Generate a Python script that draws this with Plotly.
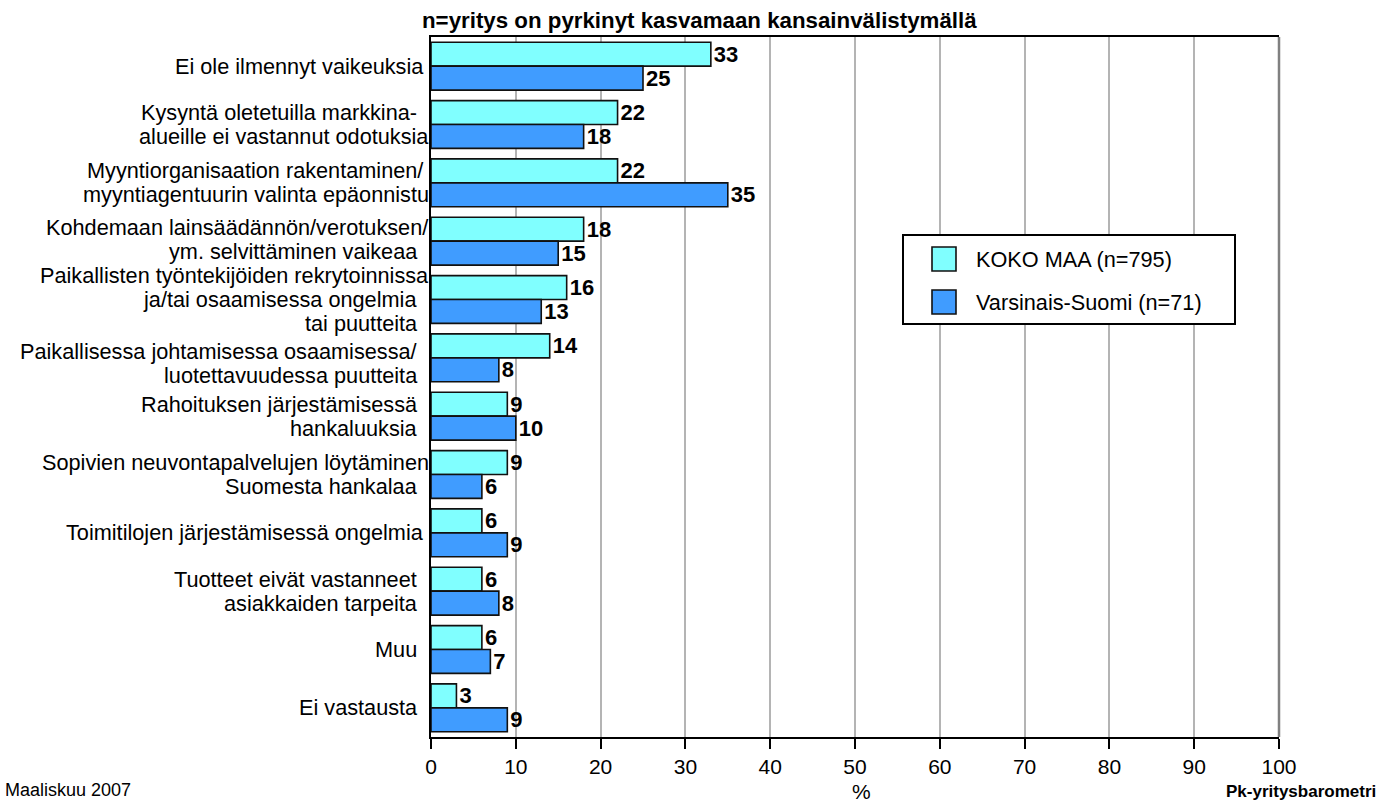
import plotly.graph_objects as go

NB = "\u00a0"

# ---- data ----
categories = [
    "Ei ole ilmennyt vaikeuksia" + NB,
    "Kysyntä oletetuilla markkina-" + NB * 2 + "<br>alueille ei vastannut odotuksia",
    "Myyntiorganisaation rakentaminen/" + NB + "<br>myyntiagentuurin valinta epäonnistu",
    "Kohdemaan lainsäädännön/verotuksen/<br>ym. selvittäminen vaikeaa" + NB * 2,
    "Paikallisten työntekijöiden rekrytoinnissa<br>ja/tai osaamisessa ongelmia" + NB * 2 + "<br>tai puutteita" + NB * 2,
    "Paikallisessa johtamisessa osaamisessa/" + NB * 2 + "<br>luotettavuudessa puutteita" + NB * 2,
    "Rahoituksen järjestämisessä" + NB * 2 + "<br>hankaluuksia" + NB * 2,
    "Sopivien neuvontapalvelujen löytäminen<br>Suomesta hankalaa" + NB * 2,
    "Toimitilojen järjestämisessä ongelmia" + NB,
    "Tuotteet eivät vastanneet" + NB * 2 + "<br>asiakkaiden tarpeita" + NB * 2,
    "Muu" + NB * 2,
    "Ei vastausta" + NB * 2,
]
koko_maa = [33, 22, 22, 18, 16, 14, 9, 9, 6, 6, 6, 3]
varsinais_suomi = [25, 18, 35, 15, 13, 8, 10, 6, 9, 8, 7, 9]
series_names = ["KOKO MAA (n=795)", "Varsinais-Suomi (n=71)"]
series_colors = ["#80ffff", "#409cff"]
x_ticks = [0, 10, 20, 30, 40, 50, 60, 70, 80, 90, 100]
title_text = "n=yritys on pyrkinyt kasvamaan kansainvälistymällä"
date_text = "Maaliskuu 2007"
source_text = "Pk-yritysbarometri"
x_title = "%"

# ---- geometry helpers (pixel -> paper) ----
W, H = 1396, 803
L, R, T, B = 431, 117, 37, 66
PW = W - L - R
PH = H - T - B


def px(x):
    return (x - L) / PW


def py(y):
    return (H - B - y) / PH


FONT = "Liberation Sans, Arial, sans-serif"
LABEL_SIZE = 21.7
LINE_STEP = 24
# small vertical nudges (pixels, downwards) of some category label blocks, as in the original
label_nudge = {3: -2, 5: 6}

fig = go.Figure()
for name, vals, col in zip(series_names, [koko_maa, varsinais_suomi], series_colors):
    fig.add_trace(go.Bar(
        y=categories, x=vals, name=name, orientation="h",
        marker=dict(color=col, line=dict(color="#111111", width=1.6)),
        text=vals, textposition="outside",
        outsidetextfont=dict(family=FONT, size=22, color="black", weight="bold"),
        cliponaxis=False, constraintext="none",
        hoverinfo="x+y",
    ))

fig.update_layout(
    width=W, height=H,
    margin=dict(l=L, r=R, t=T, b=B, pad=0),
    barmode="group", bargap=0.18, bargroupgap=0,
    plot_bgcolor="white", paper_bgcolor="white",
    font=dict(family=FONT, color="black"),
    showlegend=False,
)
fig.update_xaxes(
    range=[0, 100], tickvals=x_ticks, showgrid=True, gridcolor="#b4b4b4", gridwidth=1.5,
    showline=True, linecolor="black", linewidth=2, mirror=True,
    ticks="outside", ticklen=10, tickwidth=2, tickcolor="black",
    tickfont=dict(size=21, family=FONT), zeroline=False,
)
fig.update_yaxes(
    autorange="reversed", showline=True, linecolor="black", linewidth=2,
    ticks="", showticklabels=False, showgrid=False,
)

# category labels: one text per line, tighter line spacing than Plotly's default
for idx, cat in enumerate(categories):
    lines = cat.split("<br>")
    n = len(lines)
    for k, line in enumerate(lines):
        off = (k - (n - 1) / 2) * LINE_STEP + label_nudge.get(idx, 0)
        fig.add_annotation(text=line, xref="paper", yref="y", x=px(431), y=cat,
                           xanchor="right", yanchor="middle", yshift=-off,
                           showarrow=False, font=dict(size=LABEL_SIZE, family=FONT))

# right frame edge
fig.add_shape(type="line", xref="paper", yref="paper", x0=1, x1=1, y0=0, y1=1,
              line=dict(color="#808080", width=2.5))

# title and footers
fig.add_annotation(text="<b>" + title_text + "</b>", xref="paper", yref="paper",
                   x=px(420), y=py(21), xanchor="left", yanchor="middle", showarrow=False,
                   font=dict(size=22.3, family=FONT))
fig.add_annotation(text=x_title, xref="paper", yref="paper",
                   x=px(861), y=py(791), xanchor="center", yanchor="middle", showarrow=False,
                   font=dict(size=21, family=FONT))
fig.add_annotation(text=date_text, xref="paper", yref="paper",
                   x=px(3), y=py(790), xanchor="left", yanchor="middle", showarrow=False,
                   font=dict(size=18, family=FONT))
fig.add_annotation(text="<b>" + source_text + "</b>", xref="paper", yref="paper",
                   x=px(1378), y=py(791), xanchor="right", yanchor="middle", showarrow=False,
                   font=dict(size=17, family=FONT))

# legend box (drawn to match the original's large swatches)
fig.add_shape(type="rect", xref="paper", yref="paper",
              x0=px(903), x1=px(1235), y0=py(324), y1=py(235),
              line=dict(color="black", width=2), fillcolor="white")
for i, (name, col) in enumerate(zip(series_names, series_colors)):
    cy = 259 + i * 43
    fig.add_shape(type="rect", xref="paper", yref="paper",
                  x0=px(932), x1=px(956), y0=py(cy + 12), y1=py(cy - 12),
                  line=dict(color="#111111", width=1.6), fillcolor=col)
    fig.add_annotation(text=name, xref="paper", yref="paper",
                       x=px(974), y=py(cy), xanchor="left", yanchor="middle", showarrow=False,
                       font=dict(size=21.7, family=FONT))

fig.write_html("out.html", config={"displayModeBar": False},
               post_script="document.body.style.margin='0';document.body.style.overflow='hidden';")
